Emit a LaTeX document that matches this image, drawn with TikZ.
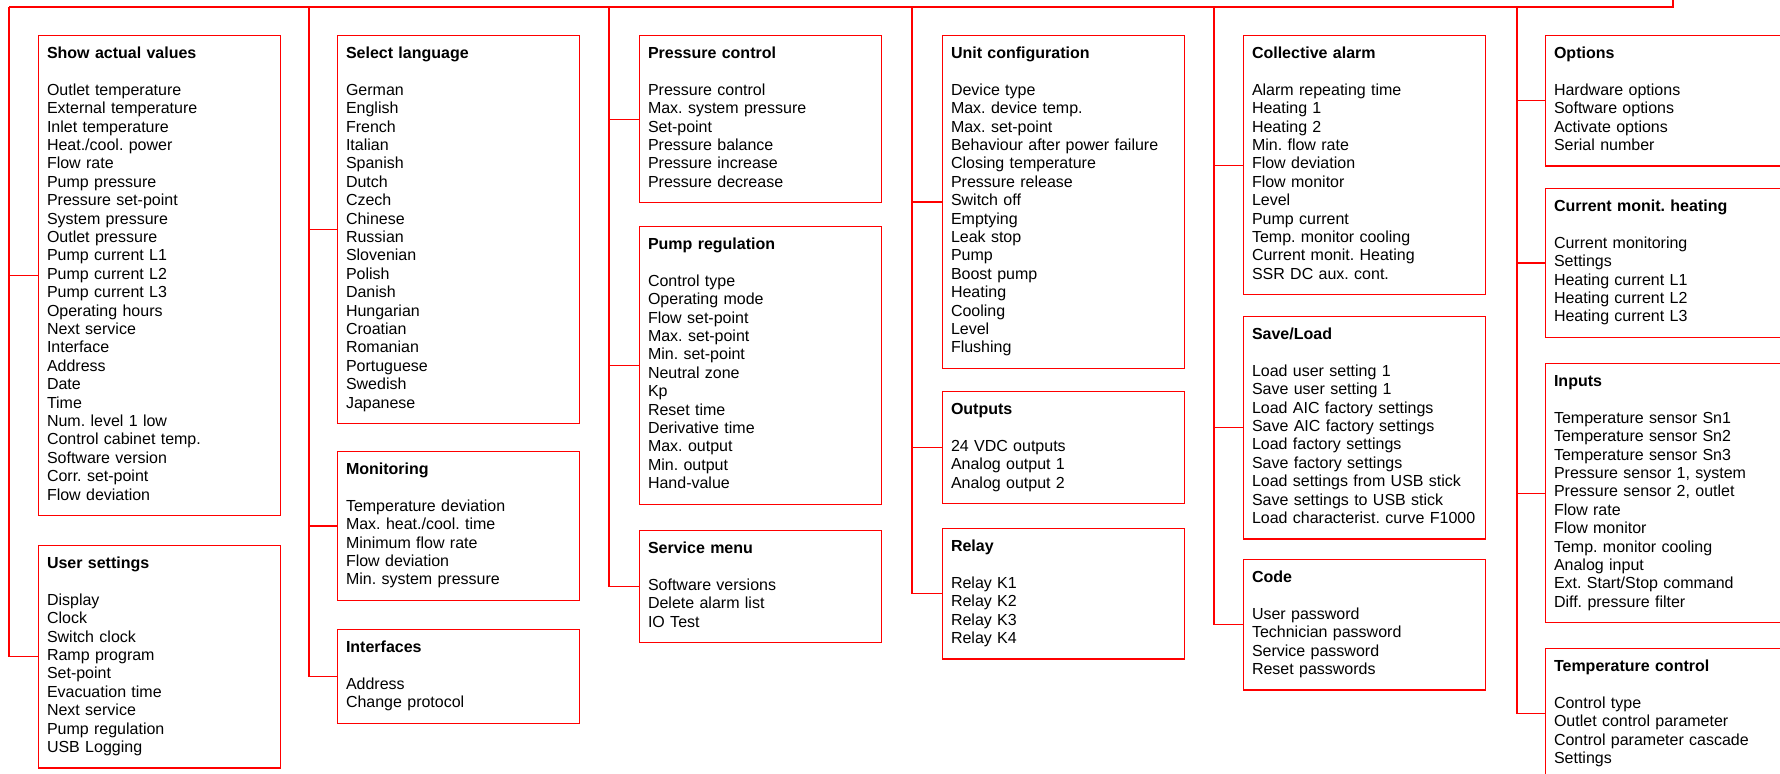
\documentclass[tikz,border=0pt]{standalone}
\usepackage{fontspec}
\setmainfont{Liberation Sans}
\usepackage{tikz}
\definecolor{menured}{HTML}{FF0000}

\begin{document}
\begin{tikzpicture}[x=0.5pt, y=-0.5pt,
  menu/.style={draw=menured, line width=0.6pt, anchor=north west,
    inner xsep=4.2pt, inner ysep=5pt, text width=112.6pt, align=left,
    font=\fontsize{8pt}{9.2pt}\selectfont\frenchspacing,
    execute at begin node=\strut, execute at end node=\strut},
  link/.style={menured, line width=0.6pt}]
\useasboundingbox (0,0) rectangle (1780,773);
\clip (0,0) rectangle (1780,773);

\node[menu] (actual) at (38,35) {\textbf{Show actual values}\\[9.2pt]
Outlet temperature\\External temperature\\Inlet temperature\\Heat./cool. power\\Flow rate\\Pump pressure\\Pressure set-point\\System pressure\\Outlet pressure\\Pump current L1\\Pump current L2\\Pump current L3\\Operating hours\\Next service\\Interface\\Address\\Date\\Time\\Num. level 1 low\\Control cabinet temp.\\Software version\\Corr. set-point\\Flow deviation};
\node[menu] (user) at (38,545) {\textbf{User settings}\\[9.2pt]
Display\\Clock\\Switch clock\\Ramp program\\Set-point\\Evacuation time\\Next service\\Pump regulation\\USB Logging};

\node[menu] (lang) at (337,35) {\textbf{Select language}\\[9.2pt]
German\\English\\French\\Italian\\Spanish\\Dutch\\Czech\\Chinese\\Russian\\Slovenian\\Polish\\Danish\\Hungarian\\Croatian\\Romanian\\Portuguese\\Swedish\\Japanese};
\node[menu] (monit) at (337,451) {\textbf{Monitoring}\\[9.2pt]
Temperature deviation\\Max. heat./cool. time\\Minimum flow rate\\Flow deviation\\Min. system pressure};
\node[menu] (iface) at (337,629) {\textbf{Interfaces}\\[9.2pt]
Address\\Change protocol};

\node[menu] (pctrl) at (639,35) {\textbf{Pressure control}\\[9.2pt]
Pressure control\\Max. system pressure\\Set-point\\Pressure balance\\Pressure increase\\Pressure decrease};
\node[menu] (pump) at (639,226) {\textbf{Pump regulation}\\[9.2pt]
Control type\\Operating mode\\Flow set-point\\Max. set-point\\Min. set-point\\Neutral zone\\Kp\\Reset time\\Derivative time\\Max. output\\Min. output\\Hand-value};
\node[menu] (service) at (639,530) {\textbf{Service menu}\\[9.2pt]
Software versions\\Delete alarm list\\IO Test};

\node[menu] (unit) at (942,35) {\textbf{Unit configuration}\\[9.2pt]
Device type\\Max. device temp.\\Max. set-point\\Behaviour after power failure\\Closing temperature\\Pressure release\\Switch off\\Emptying\\Leak stop\\Pump\\Boost pump\\Heating\\Cooling\\Level\\Flushing};
\node[menu] (outp) at (942,391) {\textbf{Outputs}\\[9.2pt]
24 VDC outputs\\Analog output 1\\Analog output 2};
\node[menu] (relay) at (942,528) {\textbf{Relay}\\[9.2pt]
Relay K1\\Relay K2\\Relay K3\\Relay K4};

\node[menu] (alarm) at (1243,35) {\textbf{Collective alarm}\\[9.2pt]
Alarm repeating time\\Heating 1\\Heating 2\\Min. flow rate\\Flow deviation\\Flow monitor\\Level\\Pump current\\Temp. monitor cooling\\Current monit. Heating\\SSR DC aux. cont.};
\node[menu] (saveload) at (1243,316) {\textbf{Save/Load}\\[9.2pt]
Load user setting 1\\Save user setting 1\\Load AIC factory settings\\Save AIC factory settings\\Load factory settings\\Save factory settings\\Load settings from USB stick\\Save settings to USB stick\\Load characterist. curve F1000};
\node[menu] (code) at (1243,559) {\textbf{Code}\\[9.2pt]
User password\\Technician password\\Service password\\Reset passwords};

\node[menu] (opts) at (1545,35) {\textbf{Options}\\[9.2pt]
Hardware options\\Software options\\Activate options\\Serial number};
\node[menu] (curmon) at (1545,188) {\textbf{Current monit. heating}\\[9.2pt]
Current monitoring\\Settings\\Heating current L1\\Heating current L2\\Heating current L3};
\node[menu] (inputs) at (1545,363) {\textbf{Inputs}\\[9.2pt]
Temperature sensor Sn1\\Temperature sensor Sn2\\Temperature sensor Sn3\\Pressure sensor 1, system\\Pressure sensor 2, outlet\\Flow rate\\Flow monitor\\Temp. monitor cooling\\Analog input\\Ext. Start/Stop command\\Diff. pressure filter};
\node[menu] (tctrl) at (1545,648) {\textbf{Temperature control}\\[9.2pt]
Control type\\Outlet control parameter\\Control parameter cascade\\Settings};

\coordinate (busa) at (9,7);
\coordinate (busb) at (309,7);
\coordinate (busc) at (609,7);
\coordinate (busd) at (912,7);
\coordinate (buse) at (1214,7);
\coordinate (busf) at (1517,7);
\coordinate (hub) at (1673,7);
\coordinate (root) at (1673,-20);

\draw[link] (busa) -- (hub) -- (root);
\draw[link] (busa) |- (actual.west);
\draw[link] (busa) |- (user.west);
\draw[link] (busb) |- (lang.west);
\draw[link] (busb) |- (monit.west);
\draw[link] (busb) |- (iface.west);
\draw[link] (busc) |- (pctrl.west);
\draw[link] (busc) |- (pump.west);
\draw[link] (busc) |- (service.west);
\draw[link] (busd) |- (unit.west);
\draw[link] (busd) |- (outp.west);
\draw[link] (busd) |- (relay.west);
\draw[link] (buse) |- (alarm.west);
\draw[link] (buse) |- (saveload.west);
\draw[link] (buse) |- (code.west);
\draw[link] (busf) |- (opts.west);
\draw[link] (busf) |- (curmon.west);
\draw[link] (busf) |- (inputs.west);
\draw[link] (busf) |- (tctrl.west);
\end{tikzpicture}
\end{document}
